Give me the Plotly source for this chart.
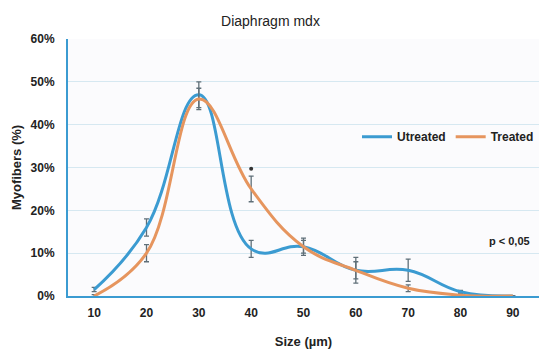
import plotly.graph_objects as go

sizes = [10, 20, 30, 40, 50, 60, 70, 80, 90]
untreated = [1.5, 16, 47, 11, 11.5, 6, 6, 1, 0]
untreated_err = [0.5, 2, 3, 2, 2, 3, 2.6, 0.3, 0]
treated = [0, 10, 46, 25, 11.5, 6, 1.8, 0.2, 0]
treated_err = [0.3, 2, 2.5, 3, 1.5, 2, 0.8, 0.2, 0]
star_x = [40]
star_y = [29.7]

blue = "#3b9bd1"
orange = "#e6955e"
err_col = "#5f6f78"

fig = go.Figure()
fig.add_trace(go.Scatter(
    x=sizes, y=untreated, mode="lines", name="Utreated",
    line=dict(color=blue, width=3, shape="spline", smoothing=1.25),
    error_y=dict(type="data", array=untreated_err, color=err_col, thickness=1.3, width=2.5),
))
fig.add_trace(go.Scatter(
    x=sizes, y=treated, mode="lines", name="Treated",
    line=dict(color=orange, width=3, shape="spline", smoothing=1.15),
    error_y=dict(type="data", array=treated_err, color=err_col, thickness=1.3, width=2.5),
))
fig.add_trace(go.Scatter(
    x=star_x, y=star_y, mode="markers", showlegend=False,
    marker=dict(color="#333", size=4),
))

fig.update_layout(
    width=541, height=349,
    margin=dict(l=68, r=2, t=39, b=53),
    paper_bgcolor="white",
    plot_bgcolor="#fbfbfd",
    font=dict(family="Liberation Sans, Arial, sans-serif", color="#222"),
    title=dict(text="Diaphragm mdx", x=0.5, xanchor="center", y=0.94, yanchor="middle",
               font=dict(size=14, color="#222")),
    showlegend=True,
    legend=dict(orientation="h", x=1.0, xanchor="right", y=0.62, yanchor="middle",
                bgcolor="rgba(0,0,0,0)", font=dict(size=12, color="#222", weight="bold"),
                itemwidth=30, tracegroupgap=0),
    xaxis=dict(range=[5, 95], tickvals=sizes, ticktext=[str(s) for s in sizes],
               showgrid=False, zeroline=False, showline=True, linecolor=blue, linewidth=2,
               ticks="outside", ticklen=5, tickcolor="rgba(0,0,0,0)",
               tickfont=dict(size=12, weight="bold"),
               title=dict(text="Size (µm)", font=dict(size=13, weight="bold"), standoff=18)),
    yaxis=dict(range=[0, 60], tickvals=[0, 10, 20, 30, 40, 50, 60],
               ticktext=["0%", "10%", "20%", "30%", "40%", "50%", "60%"],
               showgrid=True, gridcolor="#d6e8f1", gridwidth=1, zeroline=False,
               showline=True, linecolor=blue, linewidth=2,
               ticks="outside", ticklen=9, tickcolor="rgba(0,0,0,0)",
               tickfont=dict(size=12, weight="bold"),
               title=dict(text="Myofibers (%)", font=dict(size=13, weight="bold"), standoff=6)),
    annotations=[dict(text="p < 0,05", x=0.985, y=12.8, xref="paper", yref="y",
                      xanchor="right", yanchor="middle", showarrow=False,
                      font=dict(size=11, color="#222", weight="bold"))],
)
fig.write_html("out.html")
